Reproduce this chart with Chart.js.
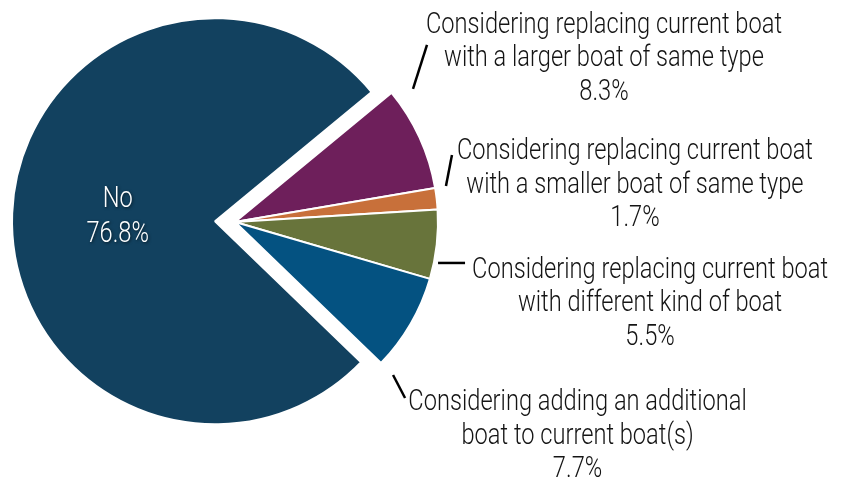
<!DOCTYPE html>
<html>
<head>
<meta charset="utf-8">
<script src="https://cdn.jsdelivr.net/npm/chart.js@4/dist/chart.umd.min.js"></script>
<style>
  body { margin: 0; background: #fff; }
  #wrap { width: 848px; height: 485px; position: relative; }
</style>
</head>
<body>
<div id="wrap"><canvas id="pieChart"></canvas></div>
<script>
// Data
const categories = [
    "No",
    "Considering replacing current boat\nwith a larger boat of same type",
    "Considering replacing current boat\nwith a smaller boat of same type",
    "Considering replacing current boat\nwith different kind of boat",
    "Considering adding an additional\nboat to current boat(s)"
];
const shares = [76.8, 8.3, 1.7, 5.5, 7.7];
const valueLabels = ["76.8%", "8.3%", "1.7%", "5.5%", "7.7%"];

const sliceColors = ['#12415f', '#6e1f5b', '#c8703a', '#68743b', '#045281'];

// the "No" slice is pulled away from the others by this many px
const EXPLODE = 20;

// where each outside label sits, relative to the slice's outer mid point
// leader: [x1, y1, x2, y2], text: [centre x, first baseline]
const labelLayout = [
    null,
    { leader: [-6.6, -48.6, 7.4, -92.6], text: [184.4, -104.6] },
    { leader: [9.3, -12.7, 15.3, -43.7], text: [198.3, -39.7] },
    { leader: [1.3, 18.4, 28.3, 18.4], text: [213.3, 33.4] },
    { leader: [-17.5, 51.1, -5.5, 74.1], text: [167, 86.1] }
];

const FONT = '300 29px Roboto, "Liberation Sans", sans-serif';
const LINE_H = 33.5;

function midAngle(arc) {
    const p = arc.getProps(['startAngle', 'endAngle']);
    return (p.startAngle + p.endAngle) / 2;
}

// draws text squeezed horizontally, the reference uses a condensed face
function drawCondensed(ctx, text, x, y, sx) {
    ctx.save();
    ctx.translate(x, y);
    ctx.scale(sx, 1);
    ctx.fillText(text, 0, 0);
    ctx.restore();
}

// draw the arcs ourselves so the big slice can be shifted out as a whole
const explodeFirst = {
    id: 'explodeFirst',
    beforeDatasetsDraw(chart) {
        const ctx = chart.ctx;
        const meta = chart.getDatasetMeta(0);
        meta.data.forEach((arc, i) => {
            ctx.save();
            if (i === 0) {
                const mid = midAngle(arc);
                ctx.translate(Math.cos(mid) * EXPLODE, Math.sin(mid) * EXPLODE);
            }
            arc.draw(ctx, chart.chartArea);
            ctx.restore();
        });
        return false;
    }
};

const pieLabels = {
    id: 'pieLabels',
    afterDraw(chart) {
        const ctx = chart.ctx;
        const meta = chart.getDatasetMeta(0);
        ctx.save();
        ctx.font = FONT;
        ctx.textAlign = 'center';
        ctx.textBaseline = 'alphabetic';
        const sx = 356 / ctx.measureText('Considering replacing current boat').width;

        meta.data.forEach((arc, i) => {
            const { x, y, outerRadius } = arc.getProps(['x', 'y', 'outerRadius']);
            const mid = midAngle(arc);

            if (i === 0) {
                // label inside the big slice
                const r = EXPLODE + outerRadius * 0.48;
                const cx = x + Math.cos(mid) * r;
                const cy = y + Math.sin(mid) * r;
                ctx.fillStyle = '#ffffff';
                ctx.shadowColor = 'rgba(0,0,0,0.6)';
                ctx.shadowBlur = 3;
                ctx.shadowOffsetX = 1;
                ctx.shadowOffsetY = 1;
                drawCondensed(ctx, categories[0], cx, cy - 10.3, sx);
                drawCondensed(ctx, valueLabels[0], cx, cy + 24.7, sx);
                ctx.shadowColor = 'transparent';
                return;
            }

            const px = x + Math.cos(mid) * outerRadius;
            const py = y + Math.sin(mid) * outerRadius;
            const lay = labelLayout[i];

            ctx.strokeStyle = '#000';
            ctx.lineWidth = 2.5;
            ctx.beginPath();
            ctx.moveTo(px + lay.leader[0], py + lay.leader[1]);
            ctx.lineTo(px + lay.leader[2], py + lay.leader[3]);
            ctx.stroke();

            ctx.fillStyle = '#141414';
            const lines = categories[i].split('\n').concat(valueLabels[i]);
            lines.forEach((line, k) => {
                drawCondensed(ctx, line, px + lay.text[0], py + lay.text[1] + k * LINE_H, sx);
            });
        });
        ctx.restore();
    }
};

const ctx = document.getElementById('pieChart').getContext('2d');
new Chart(ctx, {
    type: 'pie',
    data: {
        labels: categories,
        datasets: [{
            data: shares,
            backgroundColor: sliceColors,
            borderColor: '#ffffff',
            borderWidth: 2,
            radius: 203
        }]
    },
    options: {
        responsive: true,
        maintainAspectRatio: false,
        animation: false,
        rotation: 134,
        layout: { padding: { left: 0, right: 378, top: 0, bottom: 41 } },
        plugins: {
            legend: { display: false },
            tooltip: { enabled: false }
        }
    },
    plugins: [explodeFirst, pieLabels]
});
</script>
</body>
</html>
